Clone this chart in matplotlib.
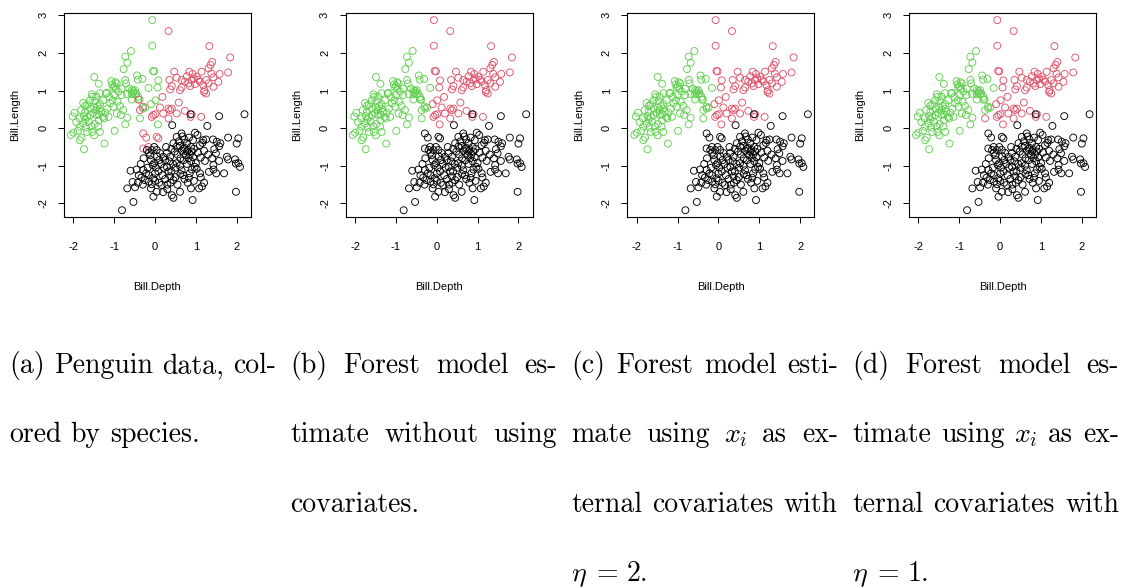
import numpy as np
import matplotlib
matplotlib.use("Agg")
import matplotlib.pyplot as plt

# standardised bill depth / bill length, one list of (depth, length) per species
gentoo = [
    (-0.07, 2.87), (-0.07, 2.19), (-0.59, 2.05), (-0.73, 1.90), (-0.68, 1.74), (-0.77, 1.57),
    (-0.05, 1.52), (-0.02, 1.51), (-1.49, 1.36), (-0.44, 1.40), (-0.42, 1.29), (-0.31, 1.31),
    (-0.73, 1.28), (-0.71, 1.19), (-1.07, 1.25), (-0.97, 1.22), (-0.94, 1.19), (-1.05, 1.16),
    (-0.99, 1.12), (-1.02, 1.08), (-0.96, 1.05), (-1.38, 1.18), (0.08, 1.27), (-0.16, 1.07),
    (0.06, 1.08), (-0.63, 1.05), (-0.57, 1.01), (-0.53, 0.99), (-0.49, 1.01), (-0.54, 0.94),
    (-0.46, 0.92), (-0.57, 0.90), (-1.18, 0.94), (-1.55, 0.90), (-1.35, 0.93), (-1.44, 0.84),
    (-0.82, 0.88), (-0.69, 0.91), (-0.41, 0.83), (-0.38, 0.76), (-1.76, 0.67), (-1.97, 0.41),
    (-2.02, 0.31), (-1.81, 0.48), (-1.71, 0.59), (-1.66, 0.63), (-1.59, 0.74), (-1.53, 0.83),
    (-1.47, 0.72), (-1.41, 0.59), (-1.35, 0.52), (-1.32, 0.43), (-1.38, 0.37), (-1.44, 0.48),
    (-1.51, 0.41), (-1.59, 0.35), (-1.66, 0.30), (-1.71, 0.23), (-1.74, 0.32), (-1.62, 0.17),
    (-1.56, 0.05), (-1.48, 0.11), (-1.38, 0.21), (-1.28, 0.30), (-1.22, 0.41), (-1.17, 0.52),
    (-1.10, 0.66), (-1.04, 0.74), (-0.92, 0.70), (-0.86, 0.59), (-0.78, 0.48), (-0.68, 0.28),
    (-0.57, 0.76), (-0.49, 0.90), (-1.20, 0.92), (-1.12, 0.83), (-1.00, 0.88), (-0.90, 0.97),
    (-0.82, 1.05), (-1.84, 0.04), (-1.89, -0.07), (-2.00, -0.12), (-2.06, -0.18), (-1.80, -0.25),
    (-1.74, -0.56), (-1.66, -0.10), (-1.49, -0.19), (-1.35, -0.10), (-1.39, 0.04), (-1.24, -0.41),
    (-0.99, -0.07), (-0.73, 0.10), (-0.37, 0.26), (0.07, 0.10), (-0.29, 0.52), (-0.24, 0.55),
    (0.01, 0.74), (-0.10, 0.64), (-1.25, 0.26), (-1.14, 0.30), (-1.02, 0.57), (-0.94, 0.39),
    (-0.84, 0.35), (-1.85, 0.26), (-1.93, 0.16), (-1.76, 0.12), (-1.69, 0.02), (-1.84, -0.32),
    (-1.54, -0.10), (-1.43, 0.35), (-1.35, 0.64), (-1.27, 0.74), (-1.49, 0.55), (-1.59, 0.52),
    (-1.71, 0.43),
]

chinstrap = [
    (0.33, 2.58), (1.33, 2.18), (1.84, 1.88), (1.40, 1.76), (1.36, 1.68), (1.31, 1.59),
    (1.79, 1.48), (1.58, 1.44), (0.47, 1.50), (0.84, 1.50), (1.14, 1.50), (0.92, 1.44),
    (0.78, 1.38), (1.02, 1.37), (0.53, 1.34), (0.65, 1.28), (0.35, 1.28), (0.90, 1.28),
    (1.06, 1.29), (1.25, 1.28), (1.43, 1.35), (1.55, 1.23), (0.82, 1.19), (0.98, 1.17),
    (1.18, 1.14), (1.31, 1.19), (1.43, 1.10), (0.41, 1.12), (0.65, 1.08), (0.37, 1.03),
    (1.21, 1.01), (1.25, 0.92), (0.61, 1.01), (0.86, 1.12), (0.73, 1.24), (1.10, 1.24),
    (0.18, 0.83), (0.58, 0.68), (0.12, 0.55), (0.33, 0.52), (0.37, 0.48), (0.41, 0.52),
    (0.20, 0.39), (0.53, 0.39), (0.73, 0.46), (0.90, 0.37), (0.87, 0.30), (1.13, 0.30),
    (-0.04, 0.35), (-0.08, 0.30), (0.01, 0.37), (0.33, 0.26), (-0.30, 0.57), (-0.37, 0.48),
    (-0.41, 0.76), (-0.29, -0.14), (-0.22, -0.25), (0.04, -0.23), (0.08, -0.27), (-0.29, -0.54),
    (-0.16, -0.50), (1.20, 0.96), (0.95, 1.32), (1.38, 1.45),
]

adelie = [
    (0.87, 0.37), (1.57, 0.32), (2.19, 0.37), (1.28, 0.06), (0.42, 0.08), (0.65, -0.14),
    (0.67, -0.22), (0.53, -0.23), (0.98, -0.12), (1.04, -0.18), (1.18, -0.32), (1.16, -0.39),
    (1.79, -0.25), (2.04, -0.27), (1.51, -0.36), (1.57, -0.48), (2.00, -0.41), (1.45, -0.56),
    (1.49, -0.67), (1.76, -0.76), (1.96, -0.83), (1.98, -0.94), (1.79, -0.83), (1.57, -0.87),
    (1.22, -0.87), (1.43, -0.98), (1.43, -1.10), (1.69, -1.20), (2.04, -0.93), (2.08, -1.03),
    (1.98, -1.69), (1.32, -1.16), (1.12, -1.31), (1.08, -1.60), (0.88, -1.60), (0.92, -1.91),
    (0.61, -1.69), (0.41, -1.78), (0.45, -1.85), (-0.04, -1.82), (0.04, -1.69), (0.16, -1.51),
    (-0.53, -1.96), (-0.81, -2.18), (-0.68, -1.60), (-0.49, -1.57), (-0.55, -1.43), (-0.60, -1.13),
    (-0.29, -1.11), (-0.33, -1.31), (-0.25, -1.38), (-0.15, -1.42), (-0.08, -1.49), (0.00, -1.40),
    (-0.05, -1.33), (-0.12, -0.72), (-0.10, -0.85), (-0.02, -0.93), (-0.06, -0.98), (0.02, -1.05),
    (-0.20, -0.58), (-0.08, -0.58), (0.04, -0.58), (0.12, -0.66), (0.20, -0.76), (0.29, -0.66),
    (0.37, -0.76), (0.29, -1.03), (0.33, -1.15), (0.37, -1.28), (0.45, -1.38), (0.53, -0.93),
    (0.61, -1.00), (0.65, -1.12), (0.69, -1.25), (0.61, -0.47), (0.70, -0.55), (0.78, -0.62),
    (0.85, -0.70), (0.93, -0.77), (0.75, -0.72), (0.66, -0.60), (0.88, -0.50), (0.83, -0.25),
    (0.93, -0.32), (0.78, -0.40), (0.45, -0.40), (0.53, -0.49), (1.00, -0.93), (1.02, -1.08),
    (1.10, -1.20), (0.97, -1.03), (1.20, -0.60), (1.30, -0.70), (0.10, -0.85), (0.15, -0.95),
    (0.22, -1.05), (0.08, -1.15), (0.18, -1.25), (0.25, -1.35), (0.10, -1.45), (0.30, -1.50),
    (0.38, -1.45), (0.50, -1.30), (0.55, -1.50), (0.72, -1.35), (0.80, -1.45), (0.85, -1.20),
    (0.90, -1.10), (0.78, -0.95), (0.70, -0.85), (0.62, -0.80), (0.55, -0.70), (0.48, -0.62),
    (0.40, -0.55), (0.35, -0.88), (0.44, -0.95), (0.25, -0.85), (-0.18, -1.05), (-0.22, -1.20),
    (-0.40, -1.25), (-0.45, -1.10), (-0.35, -0.95), (-0.28, -0.80), (-0.15, -0.65), (0.05, -0.75),
    (0.95, -0.55), (1.05, -0.65), (1.12, -0.78), (1.10, -0.45), (1.25, -0.30), (0.72, -0.30),
    (0.58, -0.35), (0.50, -1.05), (0.62, -1.22), (0.40, -1.15), (0.88, -0.88), (0.83, -1.32),
    (0.95, -1.40), (1.15, -1.55), (1.20, -1.45), (0.30, -1.62), (0.20, -1.70), (-0.10, -1.60),
    (-0.30, -1.50), (-0.42, -1.45), (-0.15, -1.25), (0.00, -1.20), (0.72, -0.52), (0.80, -0.58),
    (0.82, -0.80), (0.90, -0.62), (1.50, -1.20), (1.40, -0.80), (1.60, -0.40), (1.42, -0.30),
    (0.27, -0.50), (-0.02, -0.50),
]

# points whose forest estimate differs from the true species
forest_changes = {
    'G': [(-0.30, 0.57), (-0.37, 0.48), (-0.41, 0.76)],
    'B': [(-0.29, -0.14), (-0.22, -0.25), (0.04, -0.23), (0.08, -0.27), (-0.29, -0.54), (-0.16, -0.50)],
    'R': [(-0.07, 2.87), (-0.07, 2.19), (-0.05, 1.52), (-0.02, 1.51), (0.08, 1.27), (0.06, 1.08),
          (0.07, 0.10), (0.01, 0.74), (-0.10, 0.64)],
}
eta1_changes = {'R': [(-0.37, 0.26)]}

captions = [
    [["(a)", "Penguin", "data,", "col-"], ["ored", "by", "species."]],
    [["(b)", "Forest", "model", "es-"], ["timate", "without", "using"], ["covariates."]],
    [["(c)", "Forest", "model", "esti-"], ["mate", "using", r"$x_i$", "as", "ex-"],
     ["ternal", "covariates", "with"], [r"$\eta$", "=", "2."]],
    [["(d)", "Forest", "model", "es-"], ["timate", "using", r"$x_i$", "as", "ex-"],
     ["ternal", "covariates", "with"], [r"$\eta$", "=", "1."]],
]

pts = np.array(gentoo + chinstrap + adelie)
depth, length = pts[:, 0], pts[:, 1]
species = np.array(['G'] * len(gentoo) + ['R'] * len(chinstrap) + ['B'] * len(adelie))


def relabel(codes, changes):
    codes = codes.copy()
    for c, plist in changes.items():
        for p in plist:
            i = np.argmin((depth - p[0]) ** 2 + (length - p[1]) ** 2)
            codes[i] = c
    return codes


lab_b = relabel(species, forest_changes)
lab_c = lab_b.copy()
lab_d = relabel(lab_b, eta1_changes)
panel_labels = [species, lab_b, lab_c, lab_d]

colors = {'G': '#61D04F', 'R': '#DF536B', 'B': 'black'}

plt.rcParams['mathtext.fontset'] = 'cm'
plt.rcParams['axes.unicode_minus'] = False

W, H, DPI = 1122, 588, 100
fig = plt.figure(figsize=(W / DPI, H / DPI), dpi=DPI)

for k in range(4):
    ax = fig.add_axes([(64 + k * 281.7) / W, (H - 217) / H, 187 / W, 204 / H])
    ec = [colors[c] for c in panel_labels[k]]
    ax.scatter(depth, length, s=25, facecolors='none', edgecolors=ec, linewidths=0.65)
    ax.set_xlim(-2.23, 2.35)
    ax.set_ylim(-2.36, 3.06)
    ax.set_xticks([-2, -1, 0, 1, 2])
    ax.set_yticks([-2, -1, 0, 1, 2, 3])
    for sp in ax.spines.values():
        sp.set_linewidth(0.8)
    ax.tick_params(axis='both', length=4.3, width=0.7, labelsize=8)
    ax.tick_params(axis='x', pad=14)
    ax.tick_params(axis='y', pad=7, labelrotation=90)
    for t in ax.get_xticklabels() + ax.get_yticklabels():
        t.set_family('Liberation Sans')
    for t in ax.get_yticklabels():
        t.set_va('center')
    ax.set_xlabel('Bill.Depth', family='Liberation Sans', fontsize=8, labelpad=21)
    ax.set_ylabel('Bill.Length', family='Liberation Sans', fontsize=8, labelpad=13)

# sub-captions, justified like a LaTeX paragraph
FS = 20
renderer = fig.canvas.get_renderer()
col_left = [9, 290, 571, 852]
col_w = 267
base0, line_h = 373, 69.3
space = FS * DPI / 72 * 0.333
for k, lines in enumerate(captions):
    for j, words in enumerate(lines):
        yb = (H - (base0 + j * line_h)) / H
        arts = [fig.text(0, yb, w, fontsize=FS, family='cmr10', va='baseline', ha='left')
                for w in words]
        widths = [a.get_window_extent(renderer).width for a in arts]
        last = j == len(lines) - 1
        gap = space if (last or len(words) < 2) else (col_w - sum(widths)) / (len(words) - 1)
        x = col_left[k]
        for a, wd in zip(arts, widths):
            a.set_x(x / W)
            x += wd + gap

fig.savefig('out.png', dpi=DPI)
